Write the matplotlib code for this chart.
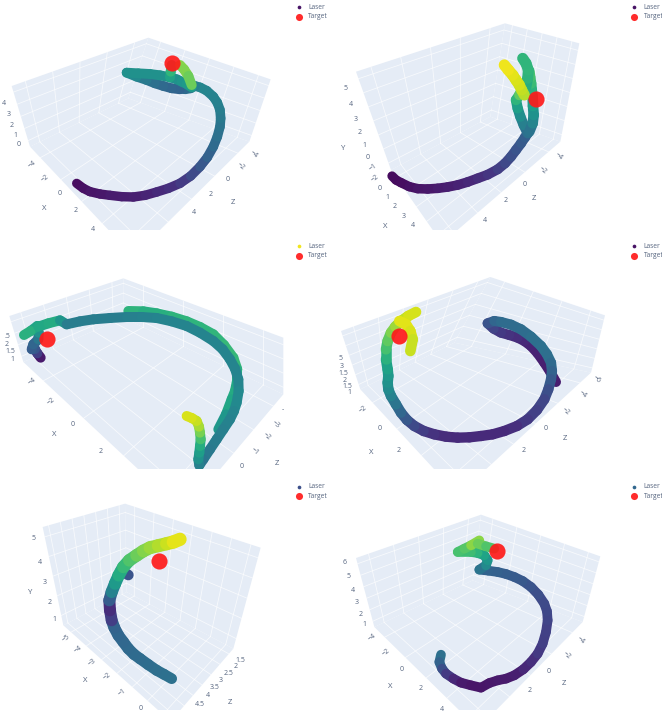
import numpy as np
import matplotlib
matplotlib.use("Agg")
import matplotlib.pyplot as plt
from matplotlib.collections import LineCollection
from matplotlib.patches import Polygon

plt.rcParams['font.family'] = ['Open Sans', 'DejaVu Sans']

PANE = '#e5ecf6'
TXT = '#55647f'
nan = np.nan

# Laser traces (nan = break between strokes), c = viridis value
p1_x = [230, 250, 270, 300, 330, 365, 400, 435, 470, 505, 540, 572, 600, 622, 640, 652, 660, 662, 660, 652, 640, 620, 600, 585, 572, 555, 540, 515, 490, 465, 440, 410, 380, 415, 450, 480, 510, 530, 545, 560, 575, nan, 510, 512, 515, nan, 540, 552, 565, 575]
p1_y = [550, 565, 575, 582, 586, 590, 591, 586, 576, 565, 550, 528, 500, 472, 440, 410, 380, 355, 330, 308, 290, 272, 262, 258, 265, 268, 268, 265, 258, 250, 240, 230, 218, 220, 222, 226, 232, 238, 245, 252, 262, nan, 232, 215, 195, nan, 195, 208, 228, 255]
p1_c = [0.03, 0.04, 0.05, 0.06, 0.07, 0.08, 0.08, 0.09, 0.11, 0.13, 0.15, 0.2, 0.25, 0.29, 0.33, 0.36, 0.38, 0.4, 0.42, 0.43, 0.44, 0.45, 0.46, 0.46, 0.4, 0.36, 0.32, 0.32, 0.33, 0.35, 0.38, 0.44, 0.5, 0.5, 0.5, 0.5, 0.5, 0.5, 0.52, 0.53, 0.55, nan, 0.55, 0.62, 0.7, nan, 0.82, 0.82, 0.8, 0.75]

p2_x = [183, 195, 210, 235, 260, 290, 320, 350, 380, 410, 440, 470, 500, 522, 540, 555, 570, 582, 590, nan, 590, 578, 568, 560, 555, 565, 575, nan, 595, 605, 608, 606, 605, 602, 600, 597, 595, nan, 585, 590, 592, 585, 575, nan, 580, 572, 565, 555, 545, 532, 520]
p2_y = [528, 540, 548, 560, 566, 567, 565, 561, 555, 546, 535, 524, 508, 490, 470, 450, 430, 412, 400, nan, 400, 375, 350, 325, 300, 285, 265, nan, 395, 370, 345, 318, 290, 270, 250, 232, 215, nan, 260, 235, 210, 190, 175, nan, 285, 270, 255, 240, 225, 210, 195]
p2_c = [0.03, 0.03, 0.03, 0.04, 0.05, 0.06, 0.07, 0.08, 0.09, 0.1, 0.12, 0.14, 0.17, 0.2, 0.23, 0.25, 0.27, 0.29, 0.3, nan, 0.33, 0.4, 0.46, 0.52, 0.6, 0.7, 0.8, nan, 0.35, 0.42, 0.48, 0.53, 0.58, 0.62, 0.66, 0.7, 0.72, nan, 0.6, 0.63, 0.66, 0.66, 0.65, nan, 0.88, 0.9, 0.92, 0.94, 0.95, 0.97, 0.98]

p3_x = [385, 430, 470, 515, 560, 600, 640, 672, 700, 712, 712, 705, 695, 678, 655, nan, 122, 112, 105, 95, 100, 115, 116, 112, 92, 72, nan, 115, 145, 180, nan, 180, 200, 240, 280, 330, 380, 425, 470, 515, 560, 600, 640, 668, 690, 705, 715, 716, 710, 702, 690, 670, 650, 630, 610, 598, 595, 598, 600, 602, 600, 597, 590, 575, 560]
p3_y = [225, 226, 232, 242, 256, 273, 295, 327, 365, 400, 430, 465, 490, 535, 580, nan, 365, 352, 340, 340, 325, 310, 290, 270, 285, 297, nan, 272, 262, 253, nan, 253, 265, 256, 250, 246, 243, 243, 246, 256, 270, 290, 315, 340, 370, 398, 430, 465, 500, 525, 550, 580, 610, 640, 670, 688, 670, 650, 630, 610, 590, 572, 555, 546, 540]
p3_c = [0.65, 0.64, 0.62, 0.64, 0.65, 0.65, 0.65, 0.66, 0.68, 0.65, 0.6, 0.6, 0.62, 0.56, 0.5, nan, 0.02, 0.12, 0.25, 0.28, 0.3, 0.35, 0.45, 0.55, 0.62, 0.65, nan, 0.6, 0.6, 0.62, nan, 0.62, 0.42, 0.42, 0.42, 0.42, 0.42, 0.44, 0.45, 0.45, 0.45, 0.45, 0.45, 0.45, 0.45, 0.45, 0.45, 0.46, 0.48, 0.46, 0.45, 0.44, 0.42, 0.41, 0.4, 0.38, 0.48, 0.53, 0.58, 0.66, 0.75, 0.84, 0.9, 0.93, 0.95]

p4_x = [675, 658, 640, 620, 600, 580, 560, 535, 510, 488, 470, 490, 510, 540, 570, 600, 630, 648, 660, 663, 660, 652, 640, 618, 590, 558, 520, 485, 450, 415, 380, 345, 310, 278, 250, 228, 210, 195, 180, 172, 170, 172, 170, 165, 165, 170, 180, 193, 210, 232, 255, nan, 205, 225, 238, 245, 238]
p4_y = [438, 408, 380, 352, 330, 315, 305, 297, 290, 278, 262, 255, 258, 266, 280, 302, 330, 355, 380, 405, 430, 460, 490, 522, 550, 570, 585, 595, 600, 604, 605, 602, 595, 585, 570, 552, 530, 505, 480, 460, 440, 420, 400, 370, 340, 315, 290, 272, 255, 240, 228, nan, 255, 265, 285, 310, 345]
p4_c = [0.08, 0.08, 0.08, 0.09, 0.09, 0.1, 0.12, 0.14, 0.15, 0.18, 0.22, 0.3, 0.35, 0.35, 0.35, 0.36, 0.37, 0.37, 0.35, 0.33, 0.3, 0.26, 0.22, 0.2, 0.18, 0.15, 0.12, 0.12, 0.12, 0.12, 0.12, 0.12, 0.13, 0.16, 0.2, 0.25, 0.3, 0.36, 0.42, 0.46, 0.5, 0.52, 0.55, 0.6, 0.68, 0.73, 0.78, 0.83, 0.88, 0.92, 0.95, nan, 0.95, 0.96, 0.95, 0.93, 0.9]

p5_x = [385, 362, nan, 515, 492, 470, 445, 420, 402, 385, 370, 355, 343, 335, 330, 328, 335, 345, 356, 370, 388, 410, 430, 450, 475, 500, 520, 540]
p5_y = [294, 280, nan, 605, 592, 580, 563, 545, 532, 515, 495, 475, 452, 430, 400, 370, 345, 320, 295, 270, 250, 235, 222, 212, 206, 200, 195, 187]
p5_c = [0.22, 0.3, nan, 0.37, 0.37, 0.36, 0.36, 0.35, 0.35, 0.34, 0.34, 0.33, 0.32, 0.31, 0.05, 0.2, 0.38, 0.5, 0.58, 0.65, 0.7, 0.75, 0.8, 0.83, 0.87, 0.9, 0.94, 0.98]

p6_x = [330, 325, 333, 345, 367, 390, 420, 450, 475, 500, 525, 550, 577, 600, 620, 635, 645, 650, 648, 640, 622, 600, 575, 550, 525, 500, 472, 445, 465, 470, 460, 440, 420, 380, 400, 420, 445, nan, 440, 465, 490]
p6_y = [533, 555, 575, 590, 605, 617, 625, 632, 618, 610, 605, 595, 577, 555, 530, 500, 465, 430, 403, 380, 353, 330, 312, 300, 291, 285, 281, 278, 265, 250, 235, 228, 225, 225, 215, 205, 190, nan, 200, 208, 215]
p6_c = [0.38, 0.35, 0.28, 0.2, 0.14, 0.08, 0.06, 0.05, 0.06, 0.07, 0.07, 0.07, 0.1, 0.12, 0.15, 0.18, 0.19, 0.2, 0.21, 0.22, 0.23, 0.25, 0.27, 0.28, 0.29, 0.3, 0.31, 0.32, 0.45, 0.5, 0.55, 0.62, 0.68, 0.7, 0.72, 0.75, 0.9, nan, 0.8, 0.75, 0.7]

# Target point per panel
target_x = [515, 614, 140, 203, 478, 497]
target_y = [188, 296, 308, 300, 252, 222]

legend_laser_c = [0.05, 0.05, 0.98, 0.05, 0.24, 0.33]

# Tick labels (text, x, y)
p1_ticks = [('4', 13, 310), ('3', 25, 343), ('2', 35, 377), ('1', 45, 407), ('0', 55, 435),
            ('−4', 97, 492), ('−2', 135, 535), ('0', 178, 580), ('2', 228, 632), ('4', 280, 687),
            ('−4', 762, 462), ('−2', 722, 498), ('0', 682, 538), ('2', 632, 585), ('4', 583, 637)]
p2_ticks = [('5', 45, 265), ('4', 60, 312), ('3', 75, 358), ('2', 87, 398), ('1', 100, 437), ('0', 110, 472),
            ('−1', 125, 503), ('−2', 133, 535), ('0', 145, 565), ('1', 168, 592), ('2', 192, 620), ('3', 218, 648),
            ('4', 245, 677), ('−4', 683, 470), ('−2', 635, 510), ('0', 582, 552), ('2', 525, 600), ('4', 462, 660)]
p3_ticks = [('.5', 22, 300), ('2', 20, 325), ('1.5', 30, 347), ('1', 38, 370),
            ('−4', 95, 437), ('−2', 152, 495), ('0', 218, 565), ('2', 302, 647),
            ('-', 848, 522), ('−3', 828, 565), ('−2', 800, 600), ('−1', 763, 645), ('0', 725, 690)]
p4_ticks = [('5', 28, 368), ('3', 32, 392), ('1.5', 37, 412), ('2', 42, 432), ('1.5', 48, 452), ('1', 55, 470),
            ('−2', 97, 520), ('0', 147, 578), ('2', 203, 643),
            ('−6', 798, 430), ('−4', 755, 475), ('−2', 705, 525), ('0', 645, 578), ('2', 578, 645)]
p5_ticks = [('5', 100, 185), ('4', 120, 255), ('3', 135, 318), ('2', 148, 375), ('1', 162, 427),
            ('−5', 197, 483), ('−4', 233, 518), ('−3', 275, 557), ('−2', 320, 597), ('−1', 367, 645), ('0', 422, 695),
            ('1.5', 722, 550), ('2', 708, 567), ('2.5', 685, 590), ('3', 662, 612), ('3.5', 645, 632), ('4', 625, 655), ('4.5', 600, 683)]
p6_ticks = [('6', 42, 258), ('5', 53, 300), ('4', 67, 340), ('3', 78, 378), ('2', 88, 412), ('1', 100, 444),
            ('−4', 123, 482), ('−2', 165, 527), ('0', 212, 578), ('2', 268, 635), ('4', 332, 697),
            ('−4', 750, 490), ('−2', 708, 535), ('0', 653, 583), ('2', 595, 640)]

# Axis titles (text, x, y)
p1_titles = [('X', 132, 625), ('Z', 700, 607)]
p2_titles = [('Y', 37, 447), ('X', 163, 680), ('Z', 608, 597)]
p3_titles = [('X', 163, 597), ('Z', 830, 682)]
p4_titles = [('X', 122, 650), ('Z', 702, 607)]
p5_titles = [('Y', 90, 348), ('X', 257, 612), ('Z', 690, 675)]
p6_titles = [('X', 178, 628), ('Z', 700, 620)]

panels = [
    # px, py, crop, box corners (top, left, right, back, floor left, floor right, front), widths, legend
    dict(px=0, py=0, crop=690, top=(445, 113), left=(35, 258), right=(812, 238), back=(385, 295),
         fl=(90, 440), fr=(748, 425), front=(400, 769), w=(28, 30), leg=(897, 22), nz=5, nx=5, ny=5,
         x=p1_x, y=p1_y, c=p1_c, ticks=p1_ticks, titles=p1_titles),
    dict(px=331, py=0, crop=690, top=(522, 70), left=(75, 215), right=(745, 130), back=(478, 350),
         fl=(180, 510), fr=(688, 425), front=(333, 730), w=(28, 34), leg=(910, 22), nz=5, nx=5, ny=7,
         x=p2_x, y=p2_y, c=p2_c, ticks=p2_ticks, titles=p2_titles),
    dict(px=0, py=236, crop=700, top=(370, 127), left=(28, 240), right=(850, 305), back=(370, 245),
         fl=(70, 378), fr=(850, 475), front=(552, 828), w=(30, 30), leg=(897, 31), nz=5, nx=4, ny=4,
         x=p3_x, y=p3_y, c=p3_c, ticks=p3_ticks, titles=p3_titles),
    dict(px=331, py=236, crop=700, top=(478, 123), left=(30, 285), right=(822, 238), back=(370, 320),
         fl=(88, 460), fr=(780, 410), front=(381, 777), w=(30, 32), leg=(910, 31), nz=6, nx=4, ny=6,
         x=p4_x, y=p4_y, c=p4_c, ticks=p4_ticks, titles=p4_titles),
    dict(px=0, py=477, crop=700, top=(375, 80), left=(128, 150), right=(782, 212), back=(380, 345),
         fl=(190, 445), fr=(700, 515), front=(512, 733), w=(32, 40), leg=(897, 29), nz=7, nx=7, ny=5,
         x=p5_x, y=p5_y, c=p5_c, ticks=p5_ticks, titles=p5_titles),
    dict(px=331, py=477, crop=700, top=(450, 113), left=(75, 243), right=(808, 238), back=(425, 310),
         fl=(130, 450), fr=(755, 435), front=(441, 755), w=(29, 29), leg=(910, 29), nz=5, nx=5, ny=6,
         x=p6_x, y=p6_y, c=p6_c, ticks=p6_ticks, titles=p6_titles),
]


def pane_grid(ax, a, b, c, d, nu, nv):
    # Grid of white lines between the edges of a four cornered pane
    a, b, c, d = [np.array(p, dtype=float) for p in (a, b, c, d)]
    poly = Polygon([a, b, c, d], closed=True, fc=PANE, ec='none', zorder=1)
    ax.add_patch(poly)
    for f in (np.arange(nu) + 0.5) / nu:
        p0, p1 = a + (b - a) * f, d + (c - d) * f
        ax.plot([p0[0], p1[0]], [p0[1], p1[1]], color='white', lw=0.6, alpha=0.7, zorder=2)
    for f in (np.arange(nv) + 0.5) / nv:
        p0, p1 = a + (d - a) * f, b + (c - b) * f
        ax.plot([p0[0], p1[0]], [p0[1], p1[1]], color='white', lw=0.6, alpha=0.7, zorder=2)


fig = plt.figure(figsize=(6.62, 7.17), dpi=100)
viridis = plt.get_cmap('viridis')

for i, p in enumerate(panels):
    h = p['crop'] / 3
    ax = fig.add_axes([p['px'] / 662, 1 - (p['py'] + h) / 717, 331 / 662, h / 717])
    ax.set_xlim(0, 993)
    ax.set_ylim(p['crop'], 0)
    ax.axis('off')

    pane_grid(ax, p['left'], p['top'], p['back'], p['fl'], p['nz'], p['ny'])
    pane_grid(ax, p['top'], p['right'], p['fr'], p['back'], p['nx'], p['ny'])
    pane_grid(ax, p['fl'], p['back'], p['fr'], p['front'], p['nz'], p['nx'])

    # Laser trace
    xs, ys, cs = np.array(p['x']), np.array(p['y']), np.array(p['c'])
    pts = np.column_stack([xs, ys])
    segs = []
    seg_c = []
    for k in range(len(xs) - 1):
        if np.isnan(xs[k]) or np.isnan(xs[k + 1]):
            continue
        segs.append(pts[k:k + 2])
        seg_c.append((cs[k] + cs[k + 1]) / 2)
    widths = np.linspace(p['w'][0], p['w'][1], len(segs)) * 0.24
    lc = LineCollection(segs, cmap=viridis, norm=plt.Normalize(0, 1), linewidths=widths,
                        capstyle='round', joinstyle='round', zorder=3)
    lc.set_array(np.array(seg_c))
    ax.add_collection(lc)

    ax.scatter(target_x[i], target_y[i], s=135, color='#ff1a1a', alpha=0.92, lw=0, zorder=5)

    for t, x, y in p['ticks']:
        rot = 0
        if t.startswith('−'):
            rot = 35 if x < 496 else -40
        ax.text(x, y, t, fontsize=5, color=TXT, ha='center', va='center', rotation=rot, clip_on=False, zorder=6)
    for t, x, y in p['titles']:
        ax.text(x, y, t, fontsize=5.6, color=TXT, ha='center', va='center', clip_on=False, zorder=6)

    # Legend
    lx, ly = p['leg']
    ax.scatter(lx, ly, s=7, color=viridis(legend_laser_c[i]), lw=0, zorder=6, clip_on=False)
    ax.scatter(lx, ly + 28, s=26, color='#ff1a1a', alpha=0.92, lw=0, zorder=6, clip_on=False)
    ax.text(lx + 28, ly, 'Laser', fontsize=4.8, color=TXT, va='center', clip_on=False)
    ax.text(lx + 28, ly + 28, 'Target', fontsize=4.8, color=TXT, va='center', clip_on=False)

fig.savefig('out.png', dpi=100)
